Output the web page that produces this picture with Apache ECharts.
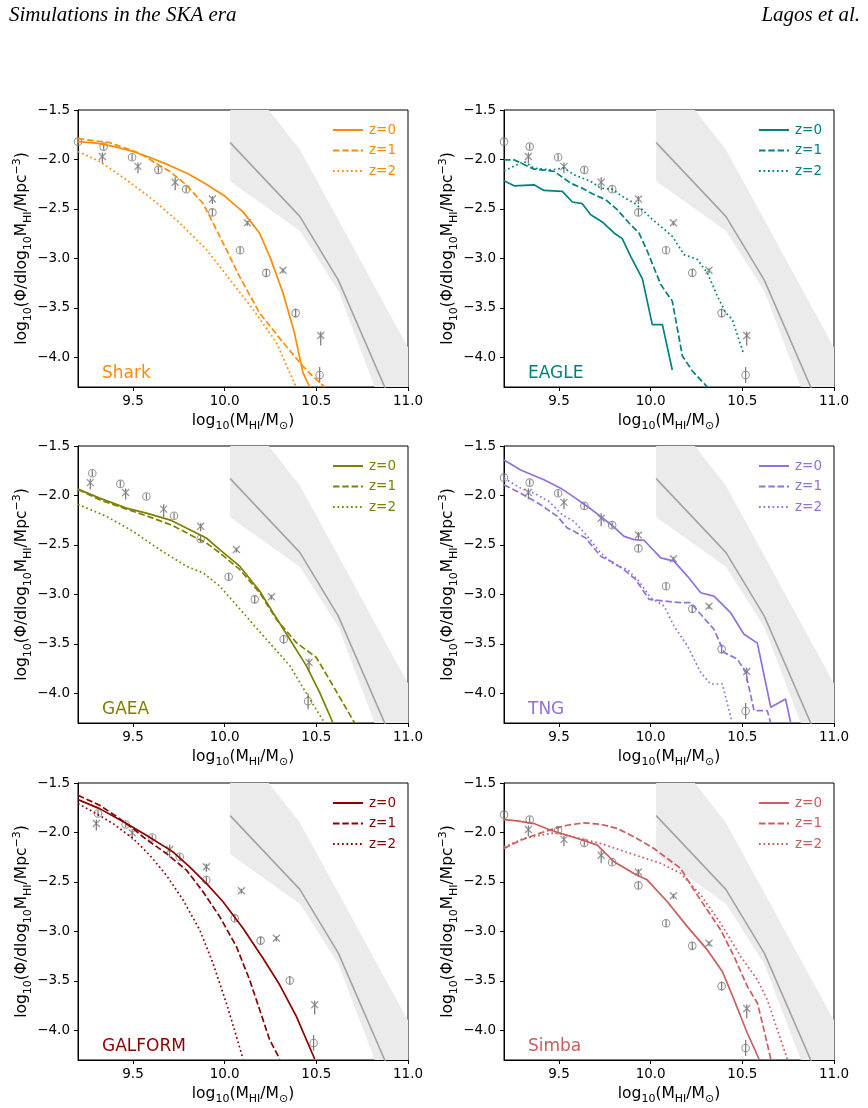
<!DOCTYPE html>
<html>
<head>
<meta charset="utf-8">
<script src="https://cdn.jsdelivr.net/npm/echarts@6/dist/echarts.min.js"></script>
<style>
  html, body { margin: 0; padding: 0; background: #fff; }
  #chart { width: 868px; height: 1108px; }
</style>
</head>
<body>
<div id="chart"></div>
<script>
// HI mass functions for six simulations at z=0,1,2, with z=0 observations
// (open circles and crosses) and the SKA forecast line + shaded range.

const X_TICKS = [9.5, 10.0, 10.5, 11.0];
const Y_TICKS = [-4.0, -3.5, -3.0, -2.5, -2.0, -1.5];

// --- observations (default cosmology) ---
const obsCirc = [[9.2, -1.82], [9.34, -1.87], [9.495, -1.977], [9.638, -2.105], [9.79, -2.30],
  [9.933, -2.535], [10.084, -2.918], [10.227, -3.146], [10.387, -3.553], [10.518, -4.178]];
const obsCircErr = [0.03, 0.03, 0.03, 0.03, 0.03, 0.035, 0.035, 0.04, 0.045, 0.08];
const obsCross = [[9.333, -1.97], [9.527, -2.07], [9.73, -2.23], [9.933, -2.40], [10.124, -2.64],
  [10.318, -3.12], [10.524, -3.78]];
const obsCrossLo = [0.07, 0.07, 0.08, 0.05, 0.03, 0.03, 0.1];
const obsCrossHi = [0.04, 0.04, 0.05, 0.03, 0.02, 0.02, 0.04];

// --- observations as plotted in GAEA panel ---
const gaeaCirc = [[9.278, -1.775], [9.431, -1.883], [9.573, -2.01], [9.724, -2.205], [9.869, -2.44],
  [10.022, -2.822], [10.164, -3.05], [10.322, -3.453], [10.455, -4.08]];
const gaeaCross = [[9.267, -1.87], [9.46, -1.97], [9.667, -2.138], [9.869, -2.312], [10.064, -2.547],
  [10.255, -3.023], [10.46, -3.688]];

// --- observations as plotted in GALFORM panel ---
const galformCirc = [[9.309, -1.809], [9.46, -1.92], [9.605, -2.051], [9.755, -2.246], [9.9, -2.481],
  [10.055, -2.868], [10.196, -3.093], [10.355, -3.496], [10.485, -4.128]];
const galformCross = [[9.3, -1.91], [9.496, -2.004], [9.7, -2.172], [9.9, -2.347], [10.091, -2.589],
  [10.282, -3.069], [10.491, -3.741]];

// --- SKA forecast: line and shaded range ---
const skaX = [10.03, 10.41, 10.62, 10.88];
const skaY = [-1.83, -2.575, -3.22, -4.33];
const skaBandX = [10.03, 10.41, 10.62, 10.87, 11.1];
const skaBandHi = [-1.0, -1.90, -2.61, -3.46, -4.24];
const skaBandLo = [-2.22, -2.72, -3.33, -4.55, -5.2];

// --- models ---
const sharkZ0 = [[9.2, -1.82], [9.3, -1.835], [9.4, -1.87], [9.5, -1.92], [9.6, -1.985], [9.7, -2.06],
  [9.8, -2.145], [9.9, -2.25], [10.0, -2.37], [10.1, -2.53], [10.19, -2.743], [10.25, -3.0],
  [10.318, -3.348], [10.38, -3.75], [10.427, -4.155], [10.464, -4.3]];
const sharkZ1 = [[9.2, -1.79], [9.373, -1.83], [9.536, -1.937], [9.627, -2.04], [9.7, -2.12],
  [9.79, -2.256], [9.88, -2.44], [9.936, -2.64], [10.009, -2.91], [10.08, -3.18], [10.19, -3.55],
  [10.318, -3.85], [10.427, -4.09], [10.48, -4.19], [10.545, -4.3]];
const sharkZ2 = [[9.2, -1.92], [9.318, -2.02], [9.464, -2.206], [9.609, -2.407], [9.755, -2.642],
  [9.9, -2.91], [10.027, -3.21], [10.155, -3.516], [10.282, -3.85], [10.39, -4.3]];

const eagleZ0 = [[9.2, -2.216], [9.255, -2.266], [9.364, -2.256], [9.418, -2.313], [9.518, -2.323],
  [9.573, -2.43], [9.627, -2.447], [9.673, -2.558], [9.736, -2.632], [9.8, -2.743], [9.845, -2.80],
  [9.891, -2.979], [9.955, -3.207], [10.009, -3.67], [10.064, -3.67], [10.118, -4.128]];
const eagleZ1 = [[9.2, -2.004], [9.255, -2.004], [9.364, -2.098], [9.473, -2.12], [9.564, -2.24],
  [9.627, -2.29], [9.682, -2.347], [9.755, -2.407], [9.818, -2.508], [9.882, -2.642], [9.936, -2.743],
  [9.982, -2.928], [10.055, -3.264], [10.118, -3.432], [10.173, -3.986], [10.227, -4.138], [10.309, -4.3]];
const eagleZ2 = [[9.2, -2.115], [9.31, -2.02], [9.364, -2.088], [9.455, -2.105], [9.527, -2.088],
  [9.582, -2.155], [9.673, -2.222], [9.727, -2.29], [9.79, -2.30], [9.845, -2.374], [9.909, -2.44],
  [9.955, -2.508], [10.0, -2.592], [10.055, -2.676], [10.118, -2.777], [10.182, -2.962], [10.255, -3.012],
  [10.309, -3.146], [10.364, -3.382], [10.409, -3.55], [10.445, -3.617], [10.505, -3.953]];

const gaeaZ0 = [[9.2, -1.936], [9.318, -2.027], [9.464, -2.128], [9.573, -2.178], [9.709, -2.252],
  [9.791, -2.329], [9.9, -2.43], [9.973, -2.547], [10.082, -2.715], [10.191, -2.966], [10.264, -3.185],
  [10.355, -3.453], [10.445, -3.72], [10.518, -3.99], [10.591, -4.3]];
const gaeaZ1 = [[9.2, -1.94], [9.318, -2.044], [9.464, -2.138], [9.573, -2.205], [9.718, -2.305],
  [9.827, -2.413], [9.9, -2.48], [9.973, -2.58], [10.082, -2.748], [10.191, -2.983], [10.282, -3.252],
  [10.391, -3.487], [10.5, -3.638], [10.591, -3.923], [10.709, -4.3]];
const gaeaZ2 = [[9.2, -2.09], [9.355, -2.211], [9.5, -2.362], [9.645, -2.547], [9.791, -2.715],
  [9.882, -2.782], [9.973, -2.916], [10.1, -3.185], [10.227, -3.453], [10.355, -3.72], [10.464, -4.057],
  [10.545, -4.3]];

const tngZ0 = [[9.2, -1.641], [9.291, -1.742], [9.418, -1.842], [9.509, -1.926], [9.582, -2.017],
  [9.655, -2.111], [9.727, -2.211], [9.8, -2.319], [9.855, -2.413], [9.909, -2.446], [9.964, -2.453],
  [10.055, -2.631], [10.127, -2.664], [10.2, -2.815], [10.273, -2.983], [10.345, -3.017], [10.436, -3.185],
  [10.509, -3.403], [10.582, -3.493], [10.655, -4.141], [10.736, -4.057], [10.764, -4.3]];
const tngZ1 = [[9.2, -1.893], [9.291, -1.977], [9.4, -2.094], [9.491, -2.211], [9.545, -2.329],
  [9.582, -2.362], [9.645, -2.43], [9.727, -2.614], [9.8, -2.681], [9.864, -2.765], [9.918, -2.849],
  [9.991, -3.05], [10.073, -3.067], [10.164, -3.084], [10.218, -3.084], [10.273, -3.201], [10.345, -3.352],
  [10.4, -3.587], [10.473, -3.654], [10.518, -3.789], [10.564, -4.175], [10.636, -4.175], [10.655, -4.3]];
const tngZ2 = [[9.2, -1.826], [9.291, -1.926], [9.364, -1.977], [9.445, -2.06], [9.518, -2.195],
  [9.582, -2.262], [9.655, -2.413], [9.727, -2.58], [9.8, -2.698], [9.873, -2.748], [9.936, -2.866],
  [10.0, -3.034], [10.073, -3.117], [10.127, -3.319], [10.2, -3.52], [10.273, -3.789], [10.327, -3.906],
  [10.391, -3.906], [10.445, -4.3]];

const galformZ0 = [[9.2, -1.668], [9.318, -1.759], [9.464, -1.91], [9.573, -2.028], [9.718, -2.196],
  [9.809, -2.347], [9.909, -2.532], [9.991, -2.70], [10.1, -2.968], [10.209, -3.271], [10.3, -3.54],
  [10.391, -3.859], [10.491, -4.29]];
const galformZ1 = [[9.2, -1.624], [9.318, -1.725], [9.427, -1.86], [9.5, -1.96], [9.573, -2.071],
  [9.682, -2.212], [9.791, -2.38], [9.882, -2.599], [9.973, -2.851], [10.064, -3.153], [10.136, -3.489],
  [10.209, -3.892], [10.245, -4.094], [10.3, -4.29]];
const galformZ2 = [[9.2, -1.708], [9.3, -1.809], [9.391, -1.91], [9.5, -2.061], [9.591, -2.229],
  [9.682, -2.431], [9.773, -2.683], [9.864, -2.985], [9.936, -3.321], [10.009, -3.724], [10.064, -4.06],
  [10.1, -4.29]];

const simbaZ0 = [[9.2, -1.87], [9.273, -1.883], [9.364, -1.91], [9.455, -1.977], [9.545, -2.028],
  [9.618, -2.071], [9.709, -2.128], [9.8, -2.296], [9.909, -2.414], [9.982, -2.481], [10.091, -2.70],
  [10.2, -2.952], [10.309, -3.187], [10.391, -3.405], [10.455, -3.691], [10.527, -4.027], [10.591, -4.29]];
const simbaZ1 = [[9.2, -2.162], [9.291, -2.078], [9.364, -2.028], [9.473, -1.96], [9.545, -1.927],
  [9.636, -1.903], [9.727, -1.917], [9.818, -1.96], [9.909, -2.044], [10.018, -2.162], [10.091, -2.263],
  [10.164, -2.364], [10.236, -2.582], [10.309, -2.784], [10.382, -2.985], [10.455, -3.254], [10.527, -3.556],
  [10.582, -3.724], [10.618, -3.993], [10.655, -4.29]];
const simbaZ2 = [[9.2, -2.145], [9.309, -2.061], [9.4, -2.028], [9.473, -2.004], [9.545, -2.028],
  [9.636, -2.071], [9.727, -2.112], [9.836, -2.179], [9.945, -2.246], [10.055, -2.313], [10.164, -2.414],
  [10.273, -2.632], [10.382, -2.918], [10.491, -3.254], [10.582, -3.489], [10.636, -3.691], [10.691, -3.993],
  [10.745, -4.29]];

const panels = [
  { name: 'Shark',   color: '#ff8c00', lines: [sharkZ0, sharkZ1, sharkZ2],       circ: obsCirc,     cross: obsCross },
  { name: 'EAGLE',   color: '#008080', lines: [eagleZ0, eagleZ1, eagleZ2],       circ: obsCirc,     cross: obsCross },
  { name: 'GAEA',    color: '#808000', lines: [gaeaZ0, gaeaZ1, gaeaZ2],          circ: gaeaCirc,    cross: gaeaCross },
  { name: 'TNG',     color: '#9370db', lines: [tngZ0, tngZ1, tngZ2],             circ: obsCirc,     cross: obsCross },
  { name: 'GALFORM', color: '#8b0000', lines: [galformZ0, galformZ1, galformZ2], circ: galformCirc, cross: galformCross },
  { name: 'Simba',   color: '#cd5c5c', lines: [simbaZ0, simbaZ1, simbaZ2],       circ: obsCirc,     cross: obsCross },
];

const Z_LABELS = ['z=0', 'z=1', 'z=2'];
const LINE_TYPES = ['solid', [6.5, 2.8], [1.7, 2.8]];

const FONT = 'DejaVu Sans';
const GRID_LEFT = [78, 504];
const GRID_TOP = [110, 446, 783];
const GRID_W = 330;
const GRID_H = 277;
const OBS_GRAY = '#7f7f7f';

const chart = echarts.init(document.getElementById('chart'), null, { renderer: 'canvas' });

const fmtTick = (v) => (v < 0 ? '\u2212' : '') + Math.abs(v).toFixed(1);

const nameRich = {
  n: { fontSize: 15.5, fontFamily: FONT, color: '#000', lineHeight: 22 },
  s: { fontSize: 11, fontFamily: FONT, color: '#000', lineHeight: 13, verticalAlign: 'bottom' },
  p: { fontSize: 11, fontFamily: FONT, color: '#000', lineHeight: 13, verticalAlign: 'top' },
};

const grids = [], xAxes = [], yAxes = [], series = [], legends = [], titles = [];

const headStyle = { fontFamily: 'Liberation Serif', fontStyle: 'italic', fontWeight: 'normal', fontSize: 21, color: '#000' };
titles.push({ text: 'Simulations in the SKA era', left: 4, top: 0, textStyle: headStyle });
titles.push({ text: 'Lagos et al.', right: 3, top: 0, textStyle: headStyle });

function errBars(points, lo, hi) {
  return points.map((p, i) => [p[0], p[1], lo[i], hi[i]]);
}

const errRender = (params, api) => {
  const p0 = api.coord([api.value(0), api.value(1) - api.value(2)]);
  const p1 = api.coord([api.value(0), api.value(1) + api.value(3)]);
  return {
    type: 'line',
    shape: { x1: p0[0], y1: p0[1], x2: p1[0], y2: p1[1] },
    style: { stroke: OBS_GRAY, lineWidth: 1.3 },
  };
};

const bandPoly = skaBandX.map((x, i) => [x, skaBandHi[i]])
  .concat(skaBandX.map((x, i) => [x, skaBandLo[i]]).reverse());

panels.forEach((pn, i) => {
  const col = i % 2, row = Math.floor(i / 2);
  const left = GRID_LEFT[col], top = GRID_TOP[row];
  grids.push({
    left, top, width: GRID_W, height: GRID_H,
    show: true, borderColor: '#000', borderWidth: 1, backgroundColor: 'transparent',
  });
  xAxes.push({
    type: 'value', gridIndex: i, min: 9.2, max: 11.0,
    axisLine: { show: true, lineStyle: { color: '#000', width: 1 } },
    axisTick: { show: true, length: 4, lineStyle: { color: '#000' }, customValues: X_TICKS },
    axisLabel: { color: '#000', fontSize: 13.5, fontFamily: FONT, margin: 7, customValues: X_TICKS, formatter: fmtTick },
    splitLine: { show: false },
    name: '{n|log}{s|10}{n|(M}{s|HI}{n|/M}{s|\u2299}{n|)}',
    nameLocation: 'middle', nameGap: 23,
    nameTextStyle: { rich: nameRich },
  });
  yAxes.push({
    type: 'value', gridIndex: i, min: -4.3, max: -1.5,
    axisLine: { show: true, lineStyle: { color: '#000', width: 1 } },
    axisTick: { show: true, length: 4, lineStyle: { color: '#000' }, customValues: Y_TICKS },
    axisLabel: { color: '#000', fontSize: 13.5, fontFamily: FONT, margin: 8, customValues: Y_TICKS, formatter: fmtTick },
    splitLine: { show: false },
    name: '{n|log}{s|10}{n|(\u03a6/dlog}{s|10}{n|M}{s|HI}{n|/Mpc}{p|\u22123}{n|)}',
    nameLocation: 'middle', nameGap: 44,
    nameTextStyle: { rich: nameRich },
  });

  // shaded SKA range
  series.push({
    type: 'custom', xAxisIndex: i, yAxisIndex: i, clip: true, silent: true, z: 1,
    data: [0],
    renderItem: (params, api) => ({
      type: 'polygon',
      shape: { points: bandPoly.map((p) => api.coord(p)) },
      style: { fill: '#ebebeb' },
    }),
  });
  series.push({
    type: 'line', xAxisIndex: i, yAxisIndex: i, symbol: 'none', z: 2, silent: true,
    data: skaX.map((x, k) => [x, skaY[k]]),
    lineStyle: { color: '#a3a3a3', width: 1.6 },
  });

  // observations
  const ce = obsCircErr.slice(obsCircErr.length - pn.circ.length);
  series.push({
    type: 'custom', xAxisIndex: i, yAxisIndex: i, z: 3, silent: true,
    data: errBars(pn.circ, ce, ce),
    renderItem: errRender,
  });
  series.push({
    type: 'scatter', xAxisIndex: i, yAxisIndex: i, z: 3, silent: true,
    data: pn.circ, symbol: 'circle', symbolSize: 7.5,
    itemStyle: { color: 'rgba(255,255,255,0)', borderColor: OBS_GRAY, borderWidth: 1.1 },
  });
  series.push({
    type: 'custom', xAxisIndex: i, yAxisIndex: i, z: 3, silent: true,
    data: errBars(pn.cross, obsCrossLo, obsCrossHi),
    renderItem: errRender,
  });
  series.push({
    type: 'scatter', xAxisIndex: i, yAxisIndex: i, z: 3, silent: true,
    data: pn.cross, symbol: 'path://M0,0L10,10M10,0L0,10', symbolSize: 7,
    itemStyle: { color: 'none', borderColor: OBS_GRAY, borderWidth: 1.3 },
  });

  // model curves
  const names = [];
  pn.lines.forEach((d, k) => {
    const nm = pn.name + ' ' + Z_LABELS[k];
    names.push(nm);
    series.push({
      name: nm, type: 'line', xAxisIndex: i, yAxisIndex: i, symbol: 'none', z: 4,
      data: d,
      lineStyle: { color: pn.color, width: 1.7, type: LINE_TYPES[k] },
      itemStyle: { color: pn.color },
    });
  });

  legends.push({
    data: names, orient: 'vertical', left: left + 249, top: top + 8,
    itemWidth: 30, itemHeight: 14, itemGap: 6.5, selectedMode: false,
    itemStyle: { opacity: 0 },
    formatter: (n) => n.replace(/^\S+ /, ''),
    textStyle: { color: pn.color, fontSize: 13.5, fontFamily: FONT, padding: [0, 0, 0, 1] },
  });

  titles.push({
    text: pn.name, left: left + 19, top: top + 250,
    textStyle: { color: pn.color, fontSize: 17, fontFamily: FONT, fontWeight: 'normal' },
  });
});

chart.setOption({
  animation: false,
  backgroundColor: '#fff',
  title: titles,
  grid: grids,
  xAxis: xAxes,
  yAxis: yAxes,
  legend: legends,
  series,
});
</script>
</body>
</html>
